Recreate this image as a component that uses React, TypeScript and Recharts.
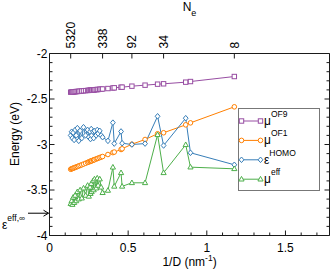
import React from 'react';
import { LineChart, Line, XAxis, YAxis, Legend, ReferenceDot } from 'recharts';

// 1/D (nm^-1)
const invD = [
  0.1347, 0.1406, 0.1454, 0.1507, 0.1567, 0.163, 0.1697, 0.1773, 0.1859, 0.1947,
  0.2052, 0.2162, 0.2295, 0.2423, 0.2499, 0.2578, 0.2607, 0.2654, 0.2678, 0.2768,
  0.2808, 0.2858, 0.2965, 0.3036, 0.309, 0.3195, 0.3285, 0.3375, 0.3714, 0.403,
  0.4117, 0.4548, 0.4617, 0.5238, 0.6075, 0.6871, 0.7253, 0.8659, 0.8962, 1.175,
];
const muOF9 = [
  -2.425, -2.424, -2.423, -2.422, -2.421, -2.42, -2.418, -2.417, -2.416, -2.414,
  -2.412, -2.41, -2.408, -2.406, -2.405, -2.404, -2.403, -2.402, -2.402, -2.401,
  -2.4, -2.399, -2.397, -2.396, -2.395, -2.393, -2.392, -2.39, -2.385, -2.379,
  -2.377, -2.371, -2.37, -2.359, -2.348, -2.337, -2.333, -2.315, -2.308, -2.253,
];
const muOF1 = [
  -3.272, -3.267, -3.264, -3.26, -3.256, -3.252, -3.247, -3.242, -3.236, -3.23,
  -3.223, -3.215, -3.206, -3.197, -3.192, -3.186, -3.184, -3.181, -3.179, -3.173,
  -3.17, -3.167, -3.159, -3.154, -3.151, -3.144, -3.138, -3.132, -3.11, -3.089,
  -3.083, -3.055, -3.047, -2.997, -2.945, -2.882, -2.871, -2.784, -2.762, -2.586,
];
const epsHOMO = [
  -2.9, -2.86, -2.93, -2.87, -2.95, -2.84, -2.9, -2.82, -2.96, -2.85,
  -2.93, -2.81, -2.9, -2.84, -2.92, -2.86, -2.94, -2.83, -2.9, -2.86,
  -2.93, -2.85, -2.9, -2.84, -2.88, -2.85, -2.9, -2.92, -2.96, -2.76,
  -2.99, -2.857, -2.986, -3.0, -2.99, -2.69, -3.011, -2.711, -3.091, -3.223,
];
const muEff = [
  -3.65, -3.62, -3.66, -3.58, -3.64, -3.56, -3.62, -3.52, -3.6, -3.5,
  -3.59, -3.48, -3.56, -3.45, -3.57, -3.47, -3.54, -3.43, -3.52, -3.4,
  -3.5, -3.38, -3.48, -3.37, -3.45, -3.38, -3.47, -3.53, -3.505, -3.25,
  -3.46, -3.311, -3.46, -3.421, -3.421, -2.893, -3.311, -3.003, -3.249, -3.267,
];

const neTickPos = [0.1347, 0.3375, 0.5238, 0.7253, 1.175];
const neTickLabels = ['5320', '338', '92', '34', '8'];
const xTicks = [0, 0.1, 0.2, 0.3, 0.4, 0.5, 0.6, 0.7, 0.8, 0.9, 1, 1.1, 1.2, 1.3, 1.4, 1.5, 1.6, 1.7];
const yTicks = [-4, -3.9, -3.8, -3.7, -3.6, -3.5, -3.4, -3.3, -3.2, -3.1, -3, -2.9, -2.8, -2.7, -2.6, -2.5, -2.4, -2.3, -2.2, -2.1, -2];
const xDomain = [0, 1.78];
const yDomain = [-4, -2];
const epsEffInf = -3.755;

const data = invD.map((x, i) => ({
  x,
  muOF9: muOF9[i],
  muOF1: muOF1[i],
  epsHOMO: epsHOMO[i],
  muEff: muEff[i],
}));

const FONT = '"Liberation Sans", Arial, Helvetica, sans-serif';
const AXIS = '#1a1a1a';
const PURPLE = '#984ea3';
const ORANGE = '#ff7f00';
const BLUE = '#377eb8';
const GREEN = '#4daf4a';

const fmt = (v: number) => String(Math.round(v * 10) / 10);
const isMajor = (v: number) => Math.abs(v * 2 - Math.round(v * 2)) < 1e-6;

const LeftTick = (p: any) => {
  const { x, y, payload } = p;
  const v = payload.value;
  const m = isMajor(v);
  return (
    <g>
      <line x1={x} x2={x + (m ? 5 : 3)} y1={y} y2={y} stroke={AXIS} strokeWidth={1} />
      {m && (
        <text x={x - 2} y={y} dy="0.35em" textAnchor="end" fontSize={12} fontFamily={FONT} fill="#000">
          {fmt(v)}
        </text>
      )}
    </g>
  );
};

const RightTick = (p: any) => {
  const { x, y, payload } = p;
  const m = isMajor(payload.value);
  return <line x1={x - (m ? 5 : 3)} x2={x} y1={y} y2={y} stroke={AXIS} strokeWidth={1} />;
};

const BottomTick = (p: any) => {
  const { x, y, payload } = p;
  const v = payload.value;
  const m = isMajor(v);
  return (
    <g>
      <line x1={x} x2={x} y1={y} y2={y - (m ? 5 : 3)} stroke={AXIS} strokeWidth={1} />
      {m && (
        <text x={x} y={y + 16} textAnchor="middle" fontSize={12} fontFamily={FONT} fill="#000">
          {fmt(v)}
        </text>
      )}
    </g>
  );
};

const TopTick = (p: any) => {
  const { x, y, payload } = p;
  const idx = neTickPos.indexOf(payload.value);
  const label = idx >= 0 ? neTickLabels[idx] : '';
  const ty = y - 5;
  return (
    <g>
      <line x1={x} x2={x} y1={y} y2={y + 5} stroke={AXIS} strokeWidth={1} />
      <text
        x={x}
        y={ty}
        dy="0.35em"
        textAnchor="start"
        transform={`rotate(-90, ${x}, ${ty})`}
        fontSize={12}
        fontFamily={FONT}
        fill="#000"
      >
        {label}
      </text>
    </g>
  );
};

const mkSquare = (c: string) => (p: any) => (
  <rect key={`s${p.index}`} x={p.cx - 2.2} y={p.cy - 2.2} width={4.4} height={4.4} fill="#fff" stroke={c} strokeWidth={1} />
);
const mkCircle = (c: string) => (p: any) => (
  <circle key={`c${p.index}`} cx={p.cx} cy={p.cy} r={2.3} fill="#fff" stroke={c} strokeWidth={1} />
);
const mkDiamond = (c: string) => (p: any) => (
  <path
    key={`d${p.index}`}
    d={`M${p.cx},${p.cy - 2.8} L${p.cx + 2.4},${p.cy} L${p.cx},${p.cy + 2.8} L${p.cx - 2.4},${p.cy} Z`}
    fill="#fff"
    stroke={c}
    strokeWidth={1}
  />
);
const mkTriangle = (c: string) => (p: any) => (
  <path
    key={`t${p.index}`}
    d={`M${p.cx},${p.cy - 2.8} L${p.cx + 2.6},${p.cy + 1.8} L${p.cx - 2.6},${p.cy + 1.8} Z`}
    fill="#fff"
    stroke={c}
    strokeWidth={1}
  />
);

const legendItems = [
  { color: PURPLE, base: 'μ', sup: 'OF9', marker: mkSquare },
  { color: ORANGE, base: 'μ', sup: 'OF1', marker: mkCircle },
  { color: BLUE, base: 'ε', sup: 'HOMO', marker: mkDiamond },
  { color: GREEN, base: 'μ', sup: 'eff', marker: mkTriangle },
];

const LegendBox = () => (
  <svg width={82} height={83} style={{ display: 'block' }}>
    <rect x={0.5} y={0.5} width={81} height={82} fill="#fff" stroke="#777" strokeWidth={1} />
    {legendItems.map((it, i) => {
      const ry = 13 + i * 19.4;
      const mk = it.marker(it.color);
      return (
        <g key={i}>
          <line x1={3.5} x2={22.5} y1={ry} y2={ry} stroke={it.color} strokeWidth={1} />
          {mk({ cx: 3.5, cy: ry, index: 0 })}
          {mk({ cx: 22.5, cy: ry, index: 1 })}
          <text x={26} y={ry + 4} fontSize={12} fontFamily={FONT} fill="#000">
            {it.base}
            <tspan dy={-8} fontSize={8.5}>
              {it.sup}
            </tspan>
          </text>
        </g>
      );
    })}
  </svg>
);

const EpsArrow = (p: any) => {
  const { cx, cy } = p;
  return (
    <g>
      <line x1={cx - 21.5} x2={cx - 1} y1={cy} y2={cy} stroke="#000" strokeWidth={1} />
      <path d={`M${cx - 6},${cy - 3} L${cx - 1},${cy} L${cx - 6},${cy + 3}`} fill="none" stroke="#000" strokeWidth={1} />
      <text x={cx - 47.5} y={cy + 15.3} fontSize={12} fontFamily={FONT} fill="#000">
        ε
        <tspan dy={-7.5} fontSize={8.5}>
          eff,∞
        </tspan>
      </text>
    </g>
  );
};

export default function App() {
  return (
    <div style={{ position: 'absolute', left: 0, top: 0, width: 332, height: 272, background: '#fff' }}>
      <LineChart width={332} height={272} data={data} margin={{ top: 0, right: 0, bottom: 0, left: 0 }}>
        <XAxis
          xAxisId="b"
          dataKey="x"
          type="number"
          domain={xDomain}
          ticks={xTicks}
          interval={0}
          allowDataOverflow
          height={36.5}
          tickSize={0}
          tickMargin={0}
          tickLine={false}
          axisLine={{ stroke: AXIS, strokeWidth: 1 }}
          tick={<BottomTick />}
          label={(lp: any) => (
            <text x={189.5} y={266} textAnchor="middle" fontSize={12} fontFamily={FONT} fill="#000">
              1/D (nm
              <tspan dy={-5} fontSize={8.5}>
                -1
              </tspan>
              <tspan dy={5}>)</tspan>
            </text>
          )}
        />
        <XAxis
          xAxisId="t"
          orientation="top"
          dataKey="x"
          type="number"
          domain={xDomain}
          ticks={neTickPos}
          interval={0}
          allowDataOverflow
          height={53.5}
          tickSize={0}
          tickMargin={0}
          tickLine={false}
          axisLine={{ stroke: AXIS, strokeWidth: 1 }}
          tick={<TopTick />}
          label={(lp: any) => (
            <text x={189.5} y={10.5} textAnchor="middle" fontSize={12} fontFamily={FONT} fill="#000">
              N
              <tspan dy={5.5} fontSize={9}>
                e
              </tspan>
            </text>
          )}
        />
        <YAxis
          yAxisId="l"
          type="number"
          domain={yDomain}
          ticks={yTicks}
          interval={0}
          allowDataOverflow
          width={49.5}
          tickSize={0}
          tickMargin={0}
          tickLine={false}
          axisLine={{ stroke: AXIS, strokeWidth: 1 }}
          tick={<LeftTick />}
          label={(lp: any) => (
            <text
              x={19}
              y={134}
              textAnchor="middle"
              transform="rotate(-90, 19, 134)"
              fontSize={12}
              fontFamily={FONT}
              fill="#000"
            >
              Energy (eV)
            </text>
          )}
        />
        <YAxis
          yAxisId="r"
          orientation="right"
          type="number"
          domain={yDomain}
          ticks={yTicks}
          interval={0}
          allowDataOverflow
          width={2.5}
          tickSize={0}
          tickMargin={0}
          tickLine={false}
          axisLine={{ stroke: AXIS, strokeWidth: 1 }}
          tick={<RightTick />}
        />
        <Line xAxisId="b" yAxisId="l" dataKey="muOF9" stroke={PURPLE} strokeWidth={1} dot={mkSquare(PURPLE)} isAnimationActive={false} />
        <Line xAxisId="b" yAxisId="l" dataKey="muOF1" stroke={ORANGE} strokeWidth={1} dot={mkCircle(ORANGE)} isAnimationActive={false} />
        <Line xAxisId="b" yAxisId="l" dataKey="epsHOMO" stroke={BLUE} strokeWidth={1} dot={mkDiamond(BLUE)} isAnimationActive={false} />
        <Line xAxisId="b" yAxisId="l" dataKey="muEff" stroke={GREEN} strokeWidth={1} dot={mkTriangle(GREEN)} isAnimationActive={false} />
        <ReferenceDot xAxisId="b" yAxisId="l" x={0} y={epsEffInf} ifOverflow="visible" shape={<EpsArrow />} />
        <Legend
          layout="horizontal"
          align="center"
          verticalAlign="middle"
          content={() => <LegendBox />}
          wrapperStyle={{ position: 'absolute', left: 238, top: 108, width: 82, height: 83, margin: 0, padding: 0 }}
        />
      </LineChart>
    </div>
  );
}
